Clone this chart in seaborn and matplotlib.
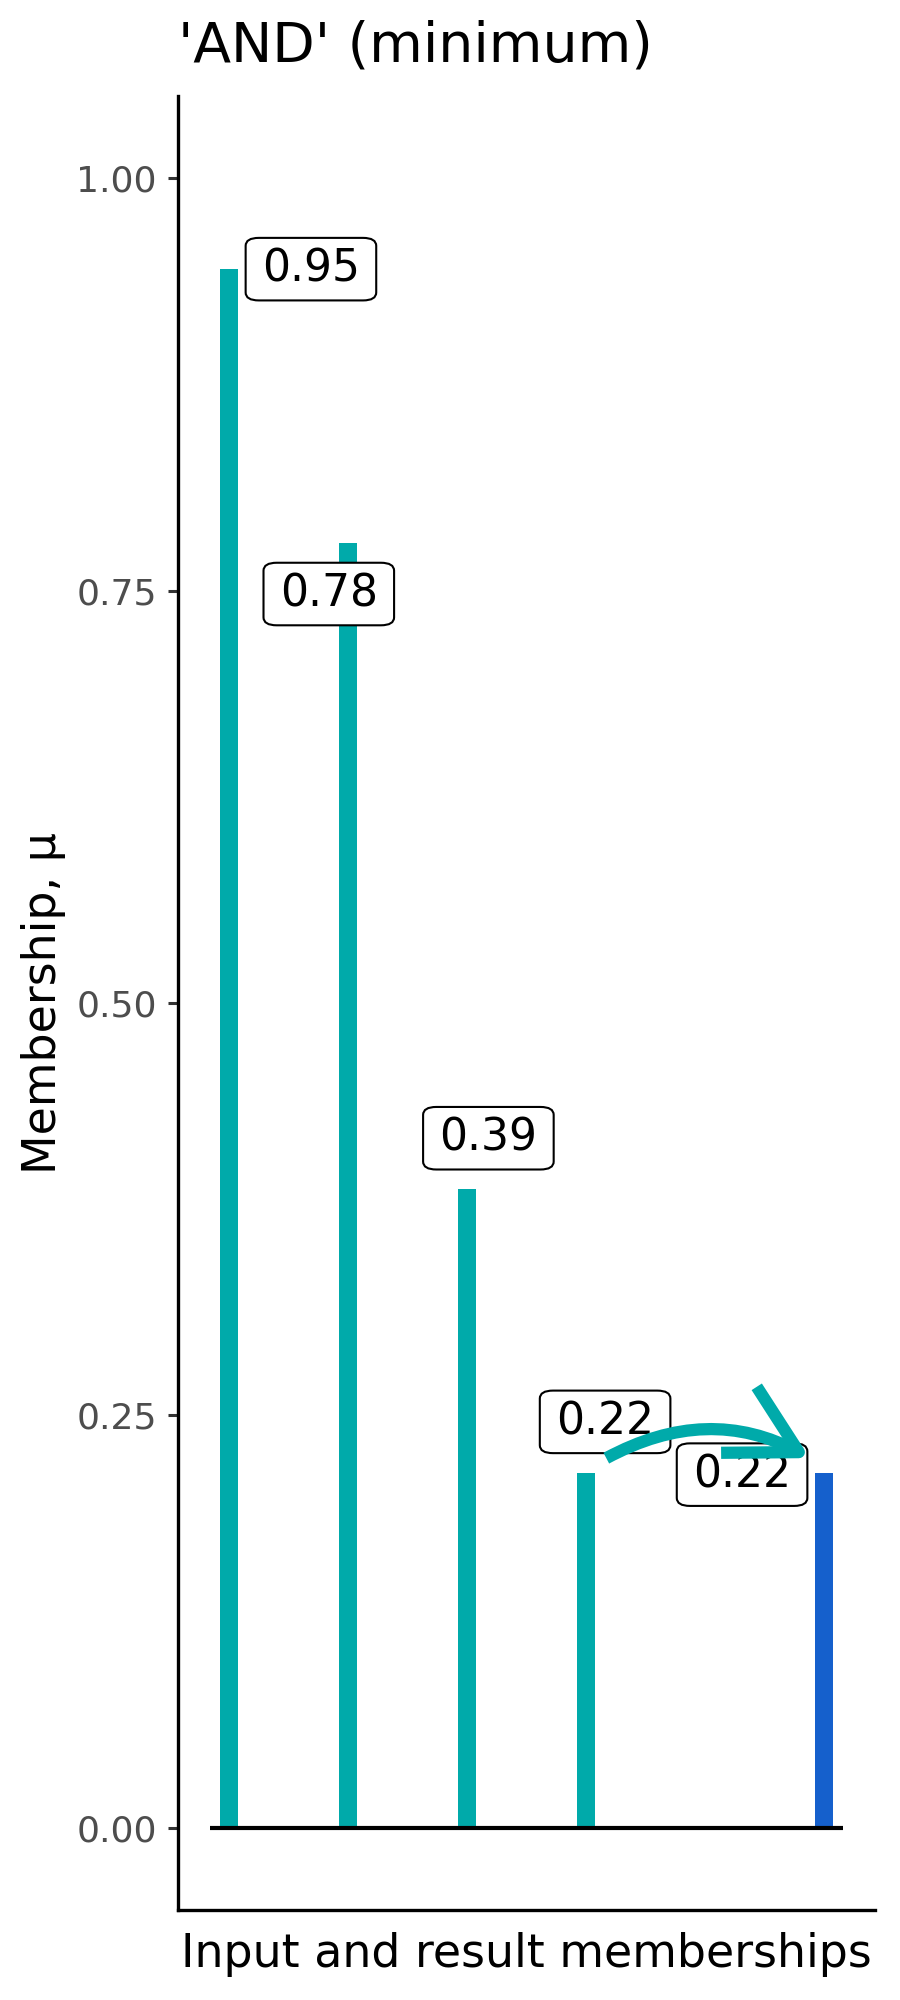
import numpy as np
import pandas as pd
import matplotlib
matplotlib.use("Agg")
import matplotlib.pyplot as plt
import seaborn as sns
from matplotlib.patches import FancyArrowPatch

# Memberships: four inputs and the 'AND' result (minimum)
positions = [1, 2, 3, 4, 6]
memberships = [0.945, 0.779, 0.387, 0.215, 0.215]
labels = ["0.95", "0.78", "0.39", "0.22", "0.22"]
kinds = ["input", "input", "input", "input", "result"]

# where the repelled labels ended up
label_x = [1.69, 1.84, 3.18, 4.16, 5.31]
label_y = [0.945, 0.748, 0.418, 0.246, 0.214]

teal = "#00AAAA"
blue = "#1560CC"

df = pd.DataFrame({"pos": positions, "mu": memberships, "kind": kinds})

sns.set_style("ticks")
plt.rcParams["font.family"] = ["DejaVu Sans"]

fig = plt.figure(figsize=(9, 20), dpi=100)
ax = fig.add_axes([0.1978, 0.045, 0.7744, 0.907])

sns.barplot(data=df, x="pos", y="mu", hue="kind", native_scale=True,
            palette={"input": teal, "result": blue}, width=0.148,
            dodge=False, errorbar=None, saturation=1, linewidth=0,
            legend=False, ax=ax, zorder=2)

# baseline at zero
base_lo, base_hi = 0.84, 6.16
ax.hlines(0, base_lo, base_hi, color="black", linewidth=3, zorder=3)

for x, y, t in zip(label_x, label_y, labels):
    ax.text(x, y, t, fontsize=31.7, ha="center", va="center",
            color="black", zorder=4,
            bbox=dict(boxstyle="round,pad=0.37,rounding_size=0.3",
                      mutation_aspect=0.6,
                      facecolor="white", edgecolor="black", linewidth=1.5))

# curved arrow from the smallest input to the result
arrow = FancyArrowPatch((4.17, 0.224), (5.88, 0.224),
                        connectionstyle="arc3,rad=-0.27",
                        arrowstyle="->,head_length=49,head_width=27",
                        color=teal, linewidth=8.8, mutation_scale=1,
                        shrinkA=0, shrinkB=0, capstyle="butt", zorder=5)
ax.add_patch(arrow)

pad = 0.05 * (base_hi - base_lo)
ax.set_xlim(base_lo - pad, base_hi + pad)
ax.set_ylim(-0.05, 1.05)
ax.set_xticks([])
ax.set_yticks([0, 0.25, 0.5, 0.75, 1.0])
ax.set_yticklabels([f"{v:.2f}" for v in [0, 0.25, 0.5, 0.75, 1.0]])
ax.tick_params(axis="y", length=7.2, width=2.2, color="#333333",
               labelcolor="#4D4D4D", labelsize=26, pad=8)

sns.despine(ax=ax)
for s in ["left", "bottom"]:
    ax.spines[s].set_linewidth(2.4)
    ax.spines[s].set_color("black")

ax.set_xlabel("Input and result memberships", fontsize=33, labelpad=16,
              color="black")
ax.set_ylabel("Membership, μ", fontsize=33, labelpad=7.5, color="black")
ax.set_title("'AND' (minimum)", fontsize=39.8, loc="left", pad=24.5,
             color="black")

fig.savefig("out.png", dpi=100)
